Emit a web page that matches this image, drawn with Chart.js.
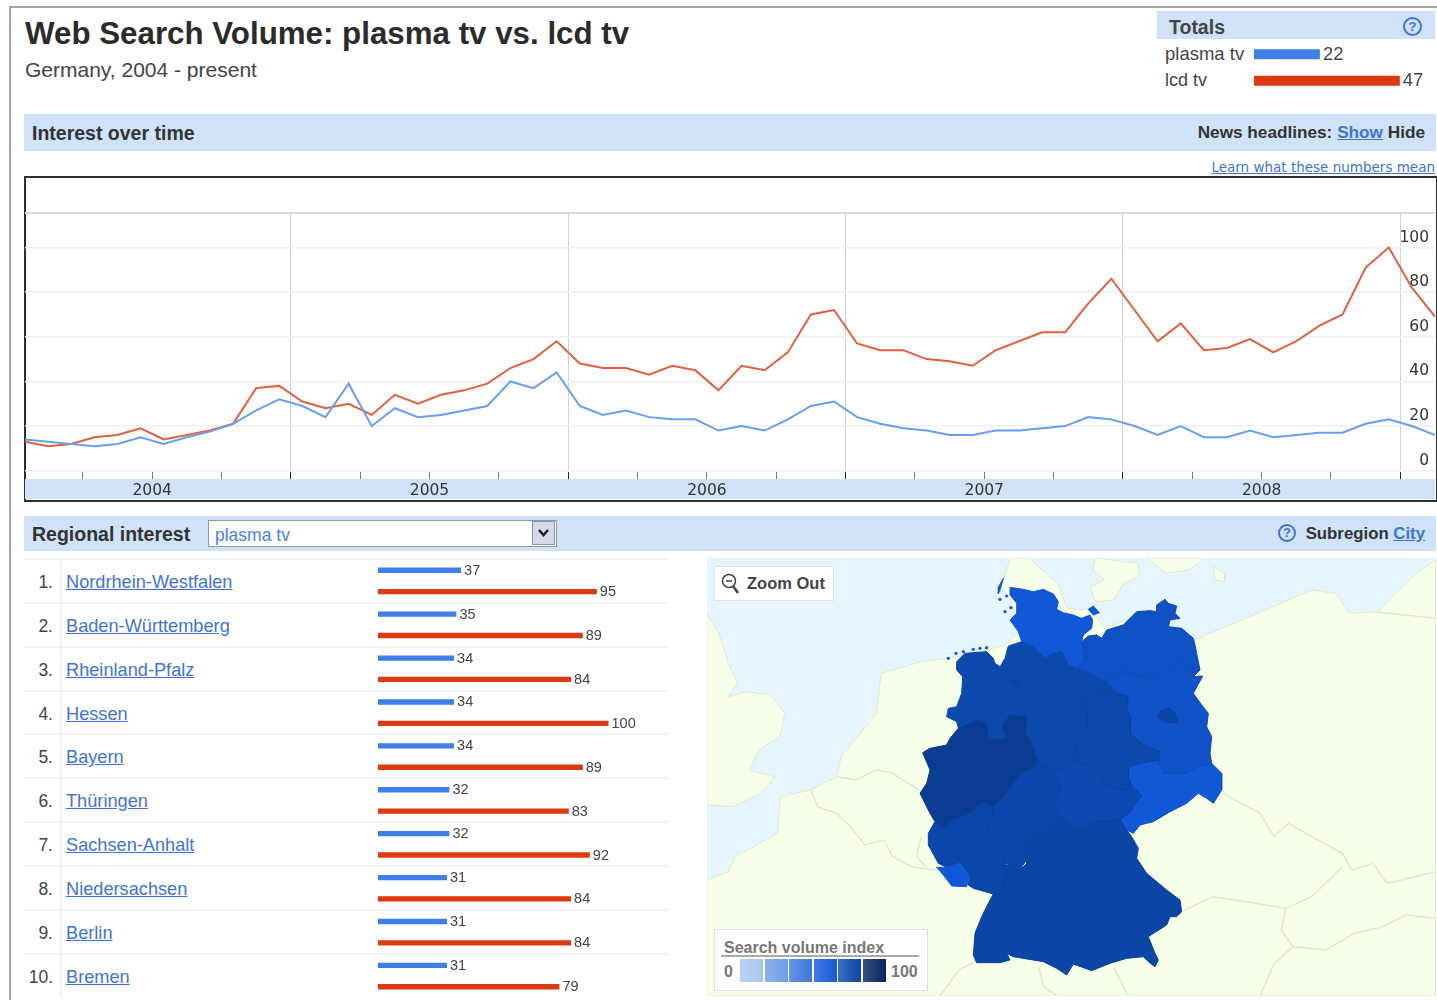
<!DOCTYPE html>
<html lang="en">
<head>
<meta charset="UTF-8">
<title>Web Search Volume: plasma tv vs. lcd tv</title>
<script src="https://cdn.jsdelivr.net/npm/chart.js"></script>
<style>
    html, body { margin: 0; padding: 0; background: #fff; }
    body { position: relative; width: 1437px; height: 1000px; overflow: hidden; font-family: "Liberation Sans", Arial, sans-serif; color: #333; }
    .abs, canvas { position: absolute; }
    .band { position: absolute; background: #cfe2f8; }
    .t { position: absolute; white-space: nowrap; }
    a { color: #3f74d6; text-decoration: underline; }
    .help { position: absolute; width: 15px; height: 15px; border: 2px solid #3f74d6; border-radius: 50%; color: #3f74d6; font: bold 13px/15px "Liberation Sans"; text-align: center; }
    .row { position: absolute; left: 24px; width: 644px; height: 43.85px; border-top: 2px solid #f0f4f9; box-sizing: border-box; }
    .row .num { position: absolute; left: 0; width: 29px; top: 12px; text-align: right; font-size: 17.5px; color: #444; }
    .row .sep { position: absolute; left: 36px; top: 0; bottom: 0; width: 2px; background: #f0f4f9; }
    .row a { position: absolute; left: 42px; top: 12px; font-size: 18.2px; white-space: nowrap; }
    .swatch { position: absolute; top: 959px; height: 23px; width: 23px; }
</style>
</head>
<body>
    <!-- page edge -->
    <div class="abs" style="left:9px;top:7px;width:2px;height:993px;background:#a6a6a6"></div>
    <div class="abs" style="left:9px;top:6px;width:1428px;height:2px;background:#a6a6a6"></div>

    <!-- header -->
    <div class="t" style="left:25px;top:16px;font-size:31.3px;font-weight:bold;color:#2b2b2b">Web Search Volume: plasma tv vs. lcd tv</div>
    <div class="t" style="left:25px;top:58px;font-size:21px;color:#444">Germany, 2004 - present</div>

    <!-- totals -->
    <div class="band" style="left:1157px;top:11px;width:278px;height:28px"></div>
    <div class="t" style="left:1169px;top:16px;font-size:19.5px;font-weight:bold;color:#444">Totals</div>
    <div class="help" style="left:1403px;top:17px">?</div>
    <div class="t" style="left:1165px;top:43px;font-size:18.5px;color:#444">plasma tv</div>
    <div class="t" style="left:1165px;top:70px;font-size:18px;color:#444">lcd tv</div>
    <canvas id="totalsChart" width="181" height="53" style="left:1254px;top:41px"></canvas>

    <!-- interest over time -->
    <div class="band" style="left:24px;top:114px;width:1412px;height:37px"></div>
    <div class="t" style="left:32px;top:122px;font-size:19.5px;font-weight:bold;color:#333">Interest over time</div>
    <div class="t" style="right:12px;top:122px;font-size:17.2px;font-weight:bold;color:#333">News headlines: <a href="#">Show</a> Hide</div>
    <div class="t" style="right:2px;top:159px;font:13.5px 'DejaVu Sans'"><a href="#">Learn what these numbers mean</a></div>
    <div class="abs" style="left:24px;top:176px;width:1410px;height:322px;border:2px solid #2e2e2e"></div>
    <canvas id="timeChart" width="1410" height="321" style="left:25px;top:178px"></canvas>

    <!-- regional interest -->
    <div class="band" style="left:24px;top:516px;width:1412px;height:35px"></div>
    <div class="t" style="left:32px;top:523px;font-size:19.5px;font-weight:bold;color:#333">Regional interest</div>
    <div class="abs" style="left:208px;top:520px;width:347px;height:25px;background:#fff;border:1px solid #7f9db9"></div>
    <div class="t" style="left:215px;top:525px;font-size:17.5px;color:#4a80e8">plasma tv</div>
    <div class="abs" style="left:532px;top:521px;width:23px;height:24px;background:#d5dbe6;border:1px solid #8a94a8;box-sizing:border-box"></div>
    <svg class="abs" style="left:537px;top:528px" width="13" height="10" viewBox="0 0 13 10"><path d="M2 2l4.5 5 4.5-5" fill="none" stroke="#222" stroke-width="2.6"/></svg>
    <div class="help" style="left:1278px;top:524px;width:14px;height:14px;line-height:14px">?</div>
    <div class="t" style="right:12px;top:524px;font-size:16.8px;font-weight:bold;color:#333">Subregion <a href="#">City</a></div>

    <div id="rows"></div>
    <canvas id="regionChart" width="290" height="439" style="left:378px;top:559px"></canvas>

    <!-- map -->
    <canvas id="mapChart" width="729" height="438" style="left:707px;top:558px;background:#e6f5ff"></canvas>
    <div class="abs" style="left:714px;top:566px;width:118px;height:33px;background:#fff;border:1px solid #dde3e6"></div>
    <svg class="abs" style="left:721px;top:573px" width="20" height="22" viewBox="0 0 20 22"><circle cx="8" cy="8" r="6.5" fill="#fff" stroke="#444" stroke-width="1.5"/><path d="M5 8h6" stroke="#444" stroke-width="1.5"/><path d="M12 13l5 7" stroke="#444" stroke-width="2.5"/></svg>
    <div class="t" style="left:747px;top:574px;font-size:16.5px;font-weight:bold;color:#444">Zoom Out</div>
    <div class="abs" style="left:714px;top:929px;width:212px;height:60px;background:#fff;border:1px solid #dde3e6"></div>
    <div class="t" style="left:724px;top:939px;font-size:16px;font-weight:bold;color:#777">Search volume index</div>
    <div class="abs" style="left:721px;top:955px;width:198px;height:2px;background:#aaa"></div>
    <div class="t" style="left:724px;top:963px;font-size:16px;font-weight:bold;color:#777">0</div>
    <div class="t" style="left:891px;top:963px;font-size:16px;font-weight:bold;color:#777">100</div>
    <div id="swatches"></div>

<script>
    // Valores (mensal, jan/2004 em diante)
    const plasmaMonthly = [14, 13, 12, 11, 12, 15, 12, 15, 17.5, 21, 27, 32, 29, 24, 39, 20, 28, 24, 25, 27, 29, 40, 37, 44, 29, 25, 27, 24, 23, 23, 18, 20, 18, 23, 29, 31, 24, 21, 19, 18, 16, 16, 18, 18, 19, 20, 24, 23, 20, 16, 20, 15, 15, 18, 15, 16, 17, 17, 21, 23, 20, 16];
    const lcdMonthly = [13, 11, 12, 15, 16, 19, 14, 16, 18, 21, 37, 38, 31, 28, 30, 25, 34, 30, 34, 36, 39, 46, 50, 58, 48, 46, 46, 43, 47, 45, 36, 47, 45, 53, 70, 72, 57, 54, 54, 50, 49, 47, 54, 58, 62, 62, 75, 86, 72, 58, 66, 54, 55, 59, 53, 58, 65, 70, 91, 100, 82, 69];
    const yearLabels = ['2004', '2005', '2006', '2007', '2008'];
    const yTicks = [0, 20, 40, 60, 80, 100];

    const regionNames = ['Nordrhein-Westfalen', 'Baden-Württemberg', 'Rheinland-Pfalz', 'Hessen', 'Bayern', 'Thüringen', 'Sachsen-Anhalt', 'Niedersachsen', 'Berlin', 'Bremen'];
    const regionPlasma = [37, 35, 34, 34, 34, 32, 32, 31, 31, 31];
    const regionLcd = [95, 89, 84, 100, 89, 83, 92, 84, 84, 79];

    const totalNames = ['plasma tv', 'lcd tv'];
    const totalValues = [22, 47];

    // Terra em volta (tracado na vista geral do mapa)
    const landMain = [[15,990],[60,965],[75,920],[165,850],[170,740],[235,720],[290,680],[300,620],[375,490],[385,370],[470,335],[550,320],[650,285],[680,240],[660,150],[640,110],[660,24],[700,24],[735,70],[760,100],[780,175],[830,180],[860,235],[950,185],[1050,270],[1200,180],[1300,120],[1350,130],[1380,190],[1440,185],[1530,60],[1564,30],[1564,1338],[15,1338]];
    const landUk = [[15,190],[40,250],[60,340],[80,400],[60,440],[100,425],[150,435],[180,490],[170,560],[125,600],[105,660],[160,680],[130,730],[70,770],[15,765]];
    const landIslandA = [[840,24],[930,40],[935,80],[900,100],[880,150],[840,155],[830,110],[860,90],[835,60]];
    const landIslandB = [[950,24],[1070,24],[1040,60],[990,70]];
    const landIslandC = [[1090,50],[1115,70],[1115,95],[1095,90]];
    const borderLines = [
        [[290,680],[330,690],[375,660],[410,670],[465,720]],
        [[235,720],[250,770],[290,790],[320,830],[350,885],[390,870],[410,920],[450,950],[500,960]],
        [[470,860],[460,920],[480,950]],
        [[510,1338],[550,1260],[590,1230]],
        [[720,1250],[730,1310],[760,1338]],
        [[880,1255],[910,1338]],
        [[1110,730],[1190,790],[1220,860],[1250,820],[1300,860],[1365,910],[1385,960],[1430,940],[1460,1000],[1564,965]],
        [[1030,1080],[1090,1040],[1180,1060],[1245,1075],[1300,1040],[1365,950]],
        [[1245,1075],[1235,1140],[1260,1190],[1220,1240],[1190,1338]],
        [[1260,1190],[1330,1200],[1390,1150],[1450,1130],[1500,1095],[1564,1105]],
        [[1430,185],[1564,205]]
    ];
    // Estados (tracados em recorte maior, outra unidade)
    const schleswig = [[300,52],[340,58],[370,65],[400,58],[430,72],[445,95],[440,118],[460,128],[490,135],[515,145],[540,135],[548,150],[545,175],[520,195],[515,215],[525,255],[520,275],[500,295],[475,285],[455,245],[430,250],[405,265],[370,230],[335,215],[325,185],[300,150],[320,130],[320,100],[300,75]];
    const sylt = [[280,25],[266,50],[265,72],[272,55]];
    const fehmarn = [[535,118],[550,108],[568,128],[550,135]];
    const mecklenburg = [[500,295],[520,275],[525,255],[515,215],[535,198],[560,195],[575,205],[590,180],[640,165],[680,125],[720,122],[740,125],[740,105],[765,88],[775,100],[800,108],[795,130],[810,145],[780,150],[775,170],[815,175],[850,205],[855,225],[862,260],[870,300],[850,320],[820,278],[780,300],[735,330],[690,320],[635,305],[590,335],[540,310]];
    const brandenburg = [[590,335],[635,305],[690,320],[735,330],[780,300],[820,278],[850,320],[878,318],[850,370],[875,405],[895,430],[890,470],[905,500],[900,550],[905,580],[860,590],[830,610],[760,610],[745,570],[750,545],[700,525],[660,490],[660,440],[650,410],[655,380],[620,370]];
    const berlin = [[742,440],[755,420],[780,415],[795,430],[805,458],[760,455]];
    const sachsen = [[655,590],[690,580],[745,570],[760,610],[830,610],[860,590],[905,580],[935,610],[935,660],[910,700],[890,685],[865,670],[830,700],[780,725],[730,755],[690,765],[670,790],[650,780],[630,750],[660,725],[695,675],[665,650],[655,620]];
    const sachsenAnhalt = [[515,390],[590,360],[620,370],[655,380],[650,410],[660,440],[660,490],[700,525],[750,545],[745,570],[690,580],[655,590],[655,620],[665,650],[640,660],[590,650],[575,625],[540,590],[505,575],[495,515],[530,470],[530,420]];
    const thueringen = [[430,610],[505,575],[540,590],[575,625],[590,650],[640,660],[665,650],[695,675],[660,725],[630,750],[560,755],[510,780],[450,742],[430,715],[435,690],[455,650]];
    const niedersachsen = [[140,275],[165,250],[230,245],[250,265],[255,280],[270,290],[285,265],[295,228],[335,215],[370,230],[405,265],[430,250],[455,245],[475,285],[500,295],[540,310],[590,335],[620,370],[590,360],[515,390],[530,420],[530,470],[495,515],[505,575],[430,610],[400,580],[380,565],[365,520],[345,490],[350,440],[300,435],[275,465],[290,505],[235,510],[230,460],[205,450],[145,475],[140,455],[110,440],[115,415],[140,410],[155,370],[158,320],[140,300]];
    const bremen = [[290,325],[325,335],[335,355],[315,350]];
    const nrw = [[38,548],[60,535],[110,525],[120,505],[145,475],[205,450],[230,460],[235,510],[290,505],[275,465],[300,435],[350,440],[345,490],[365,520],[380,565],[375,590],[330,610],[310,640],[285,675],[250,710],[220,695],[175,730],[125,750],[105,770],[75,755],[60,730],[30,670],[50,640],[60,600]];
    const hessen = [[380,565],[400,580],[430,610],[455,650],[435,690],[430,715],[450,742],[395,790],[340,815],[350,870],[325,905],[300,885],[285,880],[270,830],[220,815],[250,730],[250,710],[285,675],[310,640],[330,610],[375,590]];
    const rheinlandPfalz = [[105,770],[125,750],[175,730],[220,695],[250,710],[250,730],[220,815],[270,830],[285,880],[290,920],[270,970],[250,972],[190,955],[175,945],[178,920],[150,880],[110,892],[85,880],[55,825],[55,790],[75,755]];
    const saarland = [[80,892],[110,892],[150,880],[178,920],[170,950],[125,948],[100,915]];
    const badenWuerttemberg = [[250,972],[270,970],[290,920],[285,885],[300,885],[325,905],[350,880],[375,858],[410,865],[440,895],[455,940],[480,980],[475,1020],[440,1060],[450,1165],[400,1175],[310,1160],[290,1150],[300,1170],[270,1178],[200,1178],[190,1155],[195,1090],[215,1040],[235,1000]];
    const bayern = [[340,815],[395,790],[450,742],[510,780],[560,755],[630,750],[650,780],[665,800],[685,835],[680,865],[710,910],[770,960],[810,990],[815,1025],[800,1040],[780,1040],[770,1065],[715,1100],[735,1150],[745,1170],[735,1190],[715,1175],[700,1160],[650,1165],[600,1180],[545,1202],[490,1182],[470,1215],[440,1195],[400,1175],[450,1165],[440,1060],[475,1020],[480,980],[455,940],[440,895],[410,865],[375,858],[350,880],[350,870]];
    const islandDots = [[115,265],[138,250],[160,245],[190,238],[210,235],[230,233],[270,88],[285,125],[303,113],[290,78]];
    const legendColors = ['#a9c6f0', '#6f9ee6', '#3f78e0', '#1559d8', '#0d47a8', '#07245f'];

    const blue = '#3f7fe8';
    const red = '#dc3a10';

    // Escreve o valor logo depois de cada barra
    const barValueLabels = {
        id: 'barValueLabels',
        afterDatasetsDraw(chart, args, opts) {
            const ctx = chart.ctx;
            ctx.save();
            ctx.font = opts.font;
            ctx.fillStyle = '#444';
            ctx.textBaseline = 'middle';
            chart.data.datasets.forEach((ds, i) => {
                chart.getDatasetMeta(i).data.forEach((bar, j) => {
                    ctx.fillText(ds.data[j], bar.x + opts.gap, bar.y + 0.5);
                });
            });
            ctx.restore();
        }
    };

    // Linhas da regiao
    document.getElementById('rows').innerHTML = regionNames.map((name, i) =>
        `<div class="row" style="top:${558 + i * 43.85}px"><span class="num">${i + 1}.</span><span class="sep"></span><a href="#">${name}</a></div>`
    ).join('');

    document.getElementById('swatches').innerHTML = legendColors.map((c, i) =>
        `<div class="swatch" style="left:${740 + i * 24.6}px;background:linear-gradient(90deg,${c}cc,${c})"></div>`
    ).join('');

    // Grafico de linhas
    const toPoints = arr => arr.map((v, i) => ({ x: i, y: v }));
    const quarterTicks = [];
    for (let k = 1; k <= 20; k++) quarterTicks.push(k * 3 - 0.5);
    const yearEnd = v => (v + 0.5) % 12 === 0;

    new Chart(document.getElementById('timeChart'), {
        type: 'line',
        data: {
            datasets: [
                { label: 'plasma tv', data: toPoints(plasmaMonthly), borderColor: '#6a9ff0', borderWidth: 2, pointRadius: 0, tension: 0 },
                { label: 'lcd tv', data: toPoints(lcdMonthly), borderColor: '#e2603f', borderWidth: 2, pointRadius: 0, tension: 0 }
            ]
        },
        options: {
            responsive: false,
            animation: false,
            layout: { padding: { top: 35 }, autoPadding: false },
            plugins: { legend: { display: false }, tooltip: { enabled: false } },
            scales: {
                x: {
                    type: 'linear', min: 0, max: 61, position: 'bottom',
                    afterBuildTicks: s => { s.ticks = quarterTicks.map(v => ({ value: v })); },
                    afterFit: s => { s.height = 7; },
                    ticks: { display: false },
                    border: { display: false },
                    grid: {
                        tickLength: 7,
                        color: c => (c.tick && yearEnd(c.tick.value)) ? '#cdd2d6' : 'rgba(0,0,0,0)',
                        tickColor: c => (c.tick && yearEnd(c.tick.value)) ? '#222' : '#777'
                    }
                },
                xYear: {
                    type: 'linear', min: 0, max: 61, position: 'bottom',
                    backgroundColor: '#cfe2f8',
                    afterBuildTicks: s => { s.ticks = yearLabels.map((l, i) => ({ value: 5.5 + i * 12 })); },
                    afterFit: s => { s.height = 20; },
                    border: { display: false },
                    grid: { display: false, drawTicks: false },
                    ticks: {
                        padding: 3, autoSkip: false, maxRotation: 0, color: '#333',
                        font: { family: 'DejaVu Sans', size: 15.5 },
                        callback: v => yearLabels[(v - 5.5) / 12]
                    }
                },
                y: {
                    position: 'right', min: -0.58, max: 115.46,
                    afterBuildTicks: s => { s.ticks = yTicks.concat([115.46]).map(v => ({ value: v })); },
                    afterFit: s => { s.width = 0; },
                    border: { display: false },
                    grid: {
                        drawTicks: false,
                        color: c => (c.tick && c.tick.value > 100) ? '#dcdcdc' : '#f0f0f8',
                        lineWidth: c => (c.tick && c.tick.value > 100) ? 2 : 1.6
                    },
                    ticks: {
                        mirror: true, padding: -6, labelOffset: -10, color: '#333',
                        font: { family: 'DejaVu Sans', size: 15.5 },
                        callback: v => yTicks.includes(v) ? String(v) : ''
                    }
                }
            }
        }
    });

    // Barras por regiao
    new Chart(document.getElementById('regionChart'), {
        type: 'bar',
        data: {
            labels: regionNames,
            datasets: [
                { label: 'plasma tv', data: regionPlasma, backgroundColor: blue, categoryPercentage: 0.9715, barPercentage: 0.25 },
                { label: 'lcd tv', data: regionLcd, backgroundColor: red, categoryPercentage: 0.9715, barPercentage: 0.25 }
            ]
        },
        options: {
            indexAxis: 'y',
            responsive: false,
            animation: false,
            plugins: { legend: { display: false }, tooltip: { enabled: false }, barValueLabels: { font: '14.5px "Liberation Sans"', gap: 3 } },
            scales: {
                x: { display: false, min: 1.5, max: 125.4 },
                y: { display: false }
            }
        },
        plugins: [barValueLabels]
    });

    // Totais
    new Chart(document.getElementById('totalsChart'), {
        type: 'bar',
        data: {
            labels: totalNames,
            datasets: [{ data: totalValues, backgroundColor: [blue, red], categoryPercentage: 1, barPercentage: 0.38 }]
        },
        options: {
            indexAxis: 'y',
            responsive: false,
            animation: false,
            plugins: { legend: { display: false }, tooltip: { enabled: false }, barValueLabels: { font: '18.5px "Liberation Sans"', gap: 3 } },
            scales: {
                x: { display: false, min: 1.4, max: 58 },
                y: { display: false }
            }
        },
        plugins: [barValueLabels]
    });

    // Mapa: cada area e um dataset fechado; a vista geral e convertida para a unidade dos estados
    const fromOverview = p => [p[0] * 1.4118 - 630, p[1] - 60];
    const toXY = p => ({ x: p[0], y: p[1] });
    const area = (pts, color, edge) => ({ data: pts.concat([pts[0]]).map(toXY), showLine: true, pointRadius: 0, borderColor: edge, borderWidth: 1, backgroundColor: color, fill: 'shape', tension: 0 });
    const land = '#f6ffe8', coast = '#e0e9ca', stateEdge = '#0a40a0';
    const mapSets = [landMain, landUk, landIslandA, landIslandB, landIslandC].map(pts => area(pts.map(fromOverview), land, coast));
    borderLines.forEach(line => {
        mapSets.push({ data: line.map(fromOverview).map(toXY), showLine: true, pointRadius: 0, borderColor: coast, borderWidth: 1.5, fill: false, tension: 0 });
    });
    mapSets.push(
        area(schleswig, '#1158d8', '#1158d8'),
        area(sylt, '#1158d8', '#1158d8'),
        area(fehmarn, '#1158d8', '#1158d8'),
        area(mecklenburg, '#0f50c4', '#0d4ab5'),
        area(brandenburg, '#0f52c8', '#0d4ab5'),
        area(sachsen, '#1158d6', '#0d4ab5'),
        area(niedersachsen, '#0c49ad', '#0c49ad'),
        area(sachsenAnhalt, '#0c49ad', stateEdge),
        area(thueringen, '#0c49b0', stateEdge),
        area(hessen, '#0b47aa', stateEdge),
        area(rheinlandPfalz, '#0b47aa', stateEdge),
        area(badenWuerttemberg, '#0b45a5', stateEdge),
        area(bayern, '#0b46a7', stateEdge),
        area(nrw, '#0a3d92', '#0a3d92'),
        area(saarland, '#1158d8', '#1158d8'),
        area(berlin, '#0b45a5', stateEdge),
        area(bremen, '#0b45a5', '#0b45a5')
    );
    mapSets.push({ data: islandDots.map(toXY), showLine: false, pointRadius: 1.6, pointBackgroundColor: '#1158d8', pointBorderWidth: 0 });
    mapSets.forEach((ds, i) => { ds.order = mapSets.length - i; });

    new Chart(document.getElementById('mapChart'), {
        type: 'scatter',
        data: { datasets: mapSets },
        options: {
            responsive: false,
            animation: false,
            layout: { autoPadding: false },
            plugins: { legend: { display: false }, tooltip: { enabled: false } },
            scales: {
                x: { display: false, min: -609, max: 1578 },
                y: { display: false, reverse: true, min: -36, max: 1278 }
            }
        }
    });
</script>
</body>
</html>
